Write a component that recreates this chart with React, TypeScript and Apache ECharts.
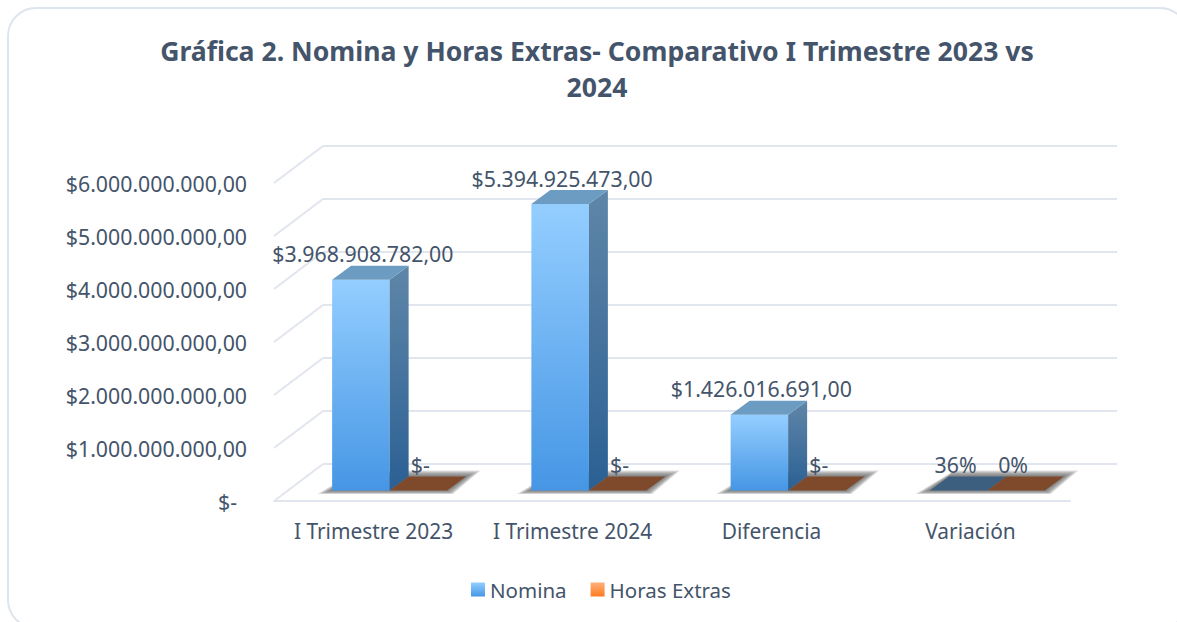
import React, { useEffect, useRef } from "react";
import * as echarts from "echarts";

const titleText = "Gráfica 2. Nomina y Horas Extras- Comparativo I Trimestre 2023 vs\n2024";
const categories = ["I Trimestre 2023", "I Trimestre 2024", "Diferencia", "Variación"];
const nomina = [3968908782, 5394925473, 1426016691, 0.36];
const horasExtras = [0, 0, 0, 0];
const nominaLabels = ["$3.968.908.782,00", "$5.394.925.473,00", "$1.426.016.691,00", "36%"];
const horasLabels = ["$-", "$-", "$-", "0%"];
const yTicks = [0, 1000000000, 2000000000, 3000000000, 4000000000, 5000000000, 6000000000];
const yTickLabels = ["$-", "$1.000.000.000,00", "$2.000.000.000,00", "$3.000.000.000,00", "$4.000.000.000,00", "$5.000.000.000,00", "$6.000.000.000,00"];

const FONT = "'Noto Sans'";
const FS = 21.3;
const TEXT = "#44546A";
const LINE = "#E1E5EE";
const DX = 19;
const DY = 14;

const grad = (stops: string[]) =>
  new echarts.graphic.LinearGradient(0, 0, 0, 1, [
    { offset: 0, color: stops[0] },
    { offset: 1, color: stops[1] },
  ]);

function barSeries(name: string, values: number[], labels: string[], side: 0 | 1, pal: any) {
  return {
    name,
    type: "custom",
    xAxisIndex: 2,
    yAxisIndex: 2,
    z: 5 + side,
    clip: false,
    itemStyle: { color: grad(pal.front) },
    data: values.map((v, i) => [i, v, labels[i]]),
    encode: { x: 0, y: 1 },
    renderItem: (params: any, api: any) => {
      const idx = api.value(0);
      const val = api.value(1);
      const top = api.coord([idx, val]);
      const base = api.coord([idx, 0]);
      const band = api.size([1, 0])[0];
      const w = band * 0.2886;
      const x = base[0] + (side === 0 ? -w : 0);
      const y0 = base[1];
      const y1 = top[1];
      const h = y0 - y1;
      const flat = h < 1;
      const children: any[] = [];
      if (side === 0) {
        const l = base[0] - w;
        const r = base[0] + w;
        for (let k = 6; k >= 1; k--) {
          const e = k * 2.4;
          children.push({
            type: "polygon",
            shape: {
              points: [
                [l - e, y0 + k * 0.6],
                [r + e * 0.4, y0 + k * 0.6],
                [r + DX + e, y0 - DY - k],
                [l + DX + e * 0.4, y0 - DY - k],
              ],
            },
            style: { fill: "rgba(95,95,95,0.2)" },
          });
        }
      }
      if (!flat) {
        children.push({
          type: "rect",
          shape: { x, y: y1, width: w, height: h },
          style: { fill: grad(pal.front) },
        });
        children.push({
          type: "polygon",
          shape: { points: [[x + w, y1], [x + w + DX, y1 - DY], [x + w + DX, y0 - DY], [x + w, y0]] },
          style: { fill: grad(pal.side) },
        });
      }
      children.push({
        type: "polygon",
        shape: { points: [[x, y1], [x + w, y1], [x + w + DX, y1 - DY], [x + DX, y1 - DY]] },
        style: { fill: flat ? pal.flat : pal.top },
      });
      const off = idx === 3 ? -3 : 2;
      children.push({
        type: "text",
        z2: 20,
        style: {
          text: api.value(2),
          x: x + w / 2 + off,
          y: y1 - 26,
          fill: TEXT,
          font: `${FS}px ${FONT}`,
          align: "center",
          verticalAlign: "middle",
        },
      });
      return { type: "group", children };
    },
  };
}

const hiddenCat = (gridIndex: number) => ({
  type: "category" as const,
  gridIndex,
  data: categories,
  axisLine: { show: false },
  axisTick: { show: false },
  axisLabel: { show: false },
});
const hiddenVal = (gridIndex: number, showSplit: boolean) => ({
  type: "value" as const,
  gridIndex,
  min: 0,
  max: 6000000000,
  interval: 1000000000,
  axisLine: { show: false },
  axisTick: { show: false },
  axisLabel: { show: false },
  splitLine: { show: showSplit, lineStyle: { color: LINE, width: 2 } },
});

export default function App() {
  const ref = useRef<HTMLDivElement>(null);
  useEffect(() => {
    const chart = echarts.init(ref.current!, null, { renderer: "svg" });
    chart.setOption({
      animation: false,
      backgroundColor: "#FFFFFF",
      title: {
        text: titleText,
        left: 592,
        top: 28,
        textAlign: "center",
        textStyle: { color: TEXT, fontFamily: FONT, fontWeight: "bold", fontSize: 26.6, lineHeight: 36 },
      },
      legend: {
        left: 466,
        top: 574,
        icon: "rect",
        itemWidth: 14,
        itemHeight: 14,
        itemGap: 24,
        textStyle: { color: TEXT, fontFamily: FONT, fontSize: 20.5 },
        data: ["Nomina", "Horas Extras"],
      },
      graphic: [
        {
          type: "rect",
          z: -10,
          shape: { x: 8, y: 8, width: 1180, height: 620, r: 28 },
          style: { fill: "#FFFFFF", stroke: "#DFE5EC", lineWidth: 2 },
        },
      ],
      grid: [
        { left: 323, width: 794, top: 146, height: 318 },
        { left: 274, width: 796, top: 183, height: 318 },
        { left: 290, width: 797, top: 172, height: 318.5 },
      ],
      xAxis: [
        hiddenCat(0),
        {
          type: "category",
          gridIndex: 1,
          data: categories,
          axisTick: { show: false },
          axisLine: { show: true, lineStyle: { color: LINE, width: 2 } },
          axisLabel: { color: TEXT, fontFamily: FONT, fontSize: 20.9, margin: 19, interval: 0 },
        },
        hiddenCat(2),
      ],
      yAxis: [
        hiddenVal(0, true),
        {
          ...hiddenVal(1, false),
          axisLabel: {
            show: true,
            margin: 27,
            color: TEXT,
            fontFamily: FONT,
            fontSize: FS,
            formatter: (v: number) => {
              const s = yTickLabels[yTicks.indexOf(v)];
              return s === "$-" ? `{z|${s}}` : s;
            },
            rich: { z: { color: TEXT, fontFamily: FONT, fontSize: FS, padding: [0, 10, 0, 0] } },
          },
        },
        hiddenVal(2, false),
      ],
      series: [
        {
          type: "custom",
          xAxisIndex: 1,
          yAxisIndex: 1,
          silent: true,
          z: 1,
          clip: false,
          data: yTicks.map((v) => [0, v]),
          encode: { x: 0, y: 1 },
          renderItem: (params: any, api: any) => {
            const p = api.coord([0, api.value(1)]);
            const x0 = params.coordSys.x;
            return {
              type: "line",
              shape: { x1: x0, y1: p[1], x2: x0 + 49, y2: p[1] - 37 },
              style: { stroke: LINE, lineWidth: 2, fill: "none" },
            };
          },
        },
        barSeries("Nomina", nomina, nominaLabels, 0, {
          front: ["#94CEFF", "#4696E5"],
          side: ["#5F86A8", "#2B6094"],
          top: "#6D9CC2",
          flat: "#3C5E7F",
        }),
        barSeries("Horas Extras", horasExtras, horasLabels, 1, {
          front: ["#FFB07A", "#FF7A1F"],
          side: ["#A8683F", "#8A4A22"],
          top: "#C07A48",
          flat: "#7E4A2B",
        }),
      ],
    });
    return () => chart.dispose();
  }, []);
  return <div ref={ref} style={{ position: "fixed", left: 0, top: 0, width: 1177, height: 622 }} />;
}
